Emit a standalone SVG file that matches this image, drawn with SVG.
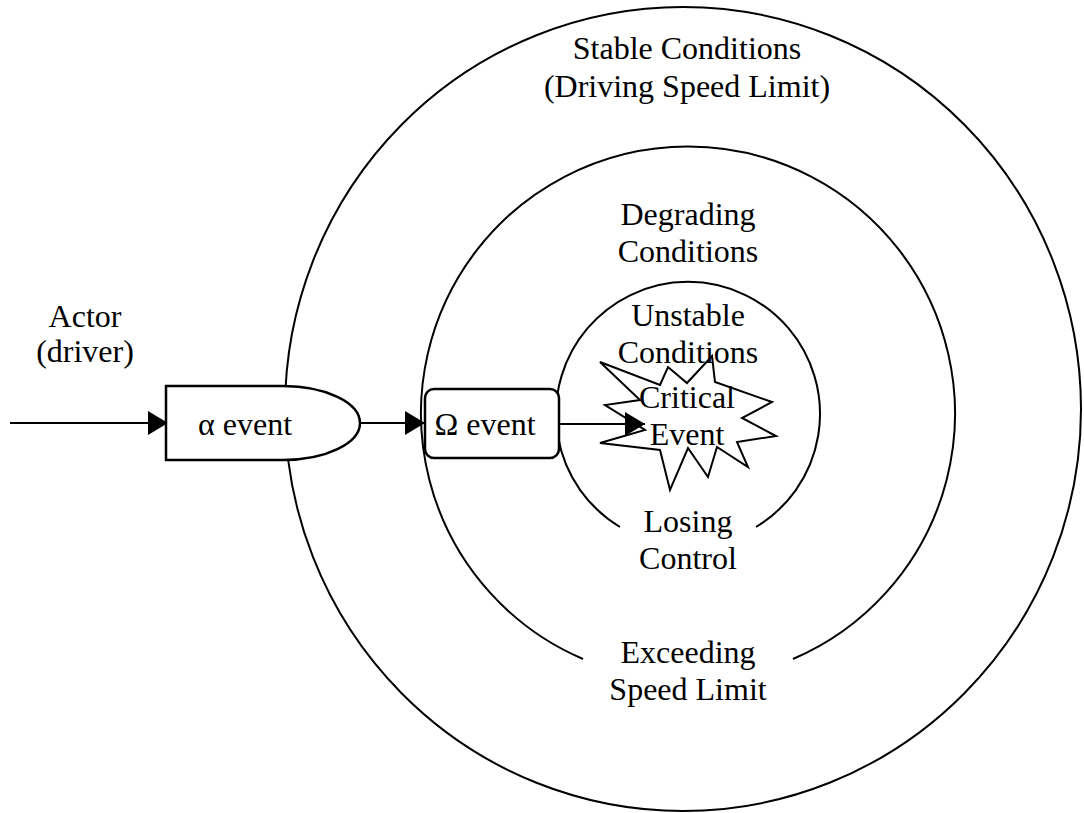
<svg xmlns="http://www.w3.org/2000/svg" width="1084" height="813" viewBox="0 0 1084 813">
  <style>
    .ring { fill: none; stroke: #000; stroke-width: 2; }
    .box { fill: #fff; stroke: #000; stroke-width: 2.5; }
    .star { fill: none; stroke: #000; stroke-width: 2; stroke-linejoin: miter; }
    .wire { fill: none; stroke: #000; stroke-width: 2; }
    text { font-family: "Liberation Serif", "Times New Roman", serif; font-size: 32px; fill: #000; text-anchor: middle; }
  </style>
  <defs>
    <marker id="arrow" viewBox="0 0 20 24" markerWidth="20" markerHeight="24" refX="20" refY="12" orient="auto" markerUnits="userSpaceOnUse">
      <path d="M0,0 L20,12 L0,24 Z" fill="#000"/>
    </marker>
  </defs>

  <rect width="1084" height="813" fill="#fff"/>

  <!-- concentric condition zones -->
  <g id="zone-stable">
    <ellipse class="ring" cx="683" cy="409" rx="398" ry="402"/>
    <text x="687" y="59">Stable Conditions</text>
    <text x="687" y="97">(Driving Speed Limit)</text>
  </g>

  <g id="zone-degrading">
    <path class="ring" d="M 583,659 A 267 267 0 1 1 793,659"/>
    <text x="688" y="225">Degrading</text>
    <text x="688" y="262">Conditions</text>
    <text x="688" y="663">Exceeding</text>
    <text x="688" y="700">Speed Limit</text>
  </g>

  <g id="zone-unstable">
    <path class="ring" d="M 620,527 A 132 132 0 1 1 756,527"/>
    <text x="688" y="326">Unstable</text>
    <text x="688" y="363">Conditions</text>
    <text x="688" y="532">Losing</text>
    <text x="688" y="569">Control</text>
  </g>

  <!-- actor label -->
  <g id="actor">
    <text x="85" y="327">Actor</text>
    <text x="85" y="362">(driver)</text>
  </g>

  <!-- connectors -->
  <g id="connectors">
    <line class="wire" x1="10" y1="423" x2="168" y2="423" marker-end="url(#arrow)"/>
    <line class="wire" x1="360" y1="423" x2="425" y2="423" marker-end="url(#arrow)"/>
    <line class="wire" x1="559" y1="424" x2="645" y2="424" marker-end="url(#arrow)"/>
  </g>

  <g id="alpha-event">
    <path class="box" d="M166,386 H283 A77,37 0 0 1 283,460 H166 Z"/>
    <text x="245" y="435">α event</text>
  </g>

  <g id="omega-event">
    <rect class="box" x="425" y="389" width="134" height="69" rx="9" ry="9"/>
    <text x="485" y="435">Ω event</text>
  </g>

  <g id="critical-event">
    <polygon class="star" points="600,362 660,385 668,367 687,383 712,356 715,382 772,402 742,418 776,436 737,442 748,467 717,447 708,477 688,448 670,490 660,450 600,443 645,430 605,405 640,400"/>
    <text x="687" y="408">Critical</text>
    <text x="687" y="445">Event</text>
  </g>
</svg>
